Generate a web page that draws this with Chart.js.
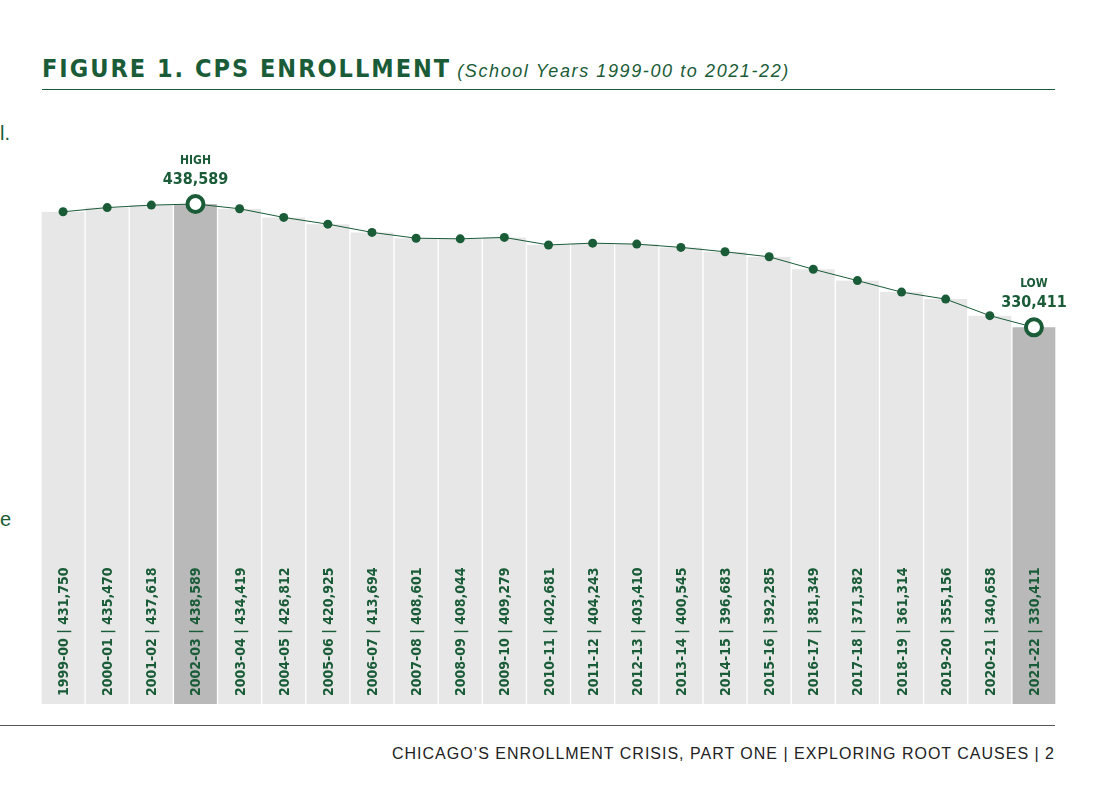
<!DOCTYPE html>
<html>
<head>
<meta charset="utf-8">
<script src="https://cdn.jsdelivr.net/npm/chart.js@4"></script>
<style>
  body { margin:0; width:1110px; height:790px; background:#fff; position:relative; overflow:hidden; font-family:"Liberation Sans", Arial, sans-serif; }
  #title { position:absolute; left:42px; top:54px; color:#1a5c38; font-family:"Liberation Sans Narrow","DejaVu Sans Condensed",sans-serif; font-weight:bold; font-size:25px; letter-spacing:2px; white-space:nowrap; }
  #title i { font-family:"Liberation Sans",sans-serif; font-weight:normal; font-size:18px; letter-spacing:1.6px; margin-left:6px; }
  #rule1 { position:absolute; left:42px; top:89px; width:1013px; height:1px; background:#1a5c38; }
  #rule2 { position:absolute; left:0; top:725px; width:1055px; height:1px; background:#555; }
  #footer { position:absolute; right:55px; top:745px; font-size:16px; letter-spacing:1px; color:#222; }
  .stray { position:absolute; left:0; color:#1a5c38; font-size:20px; }
  #wrap { position:absolute; left:29px; top:122px; width:1039px; height:594px; }
</style>
</head>
<body>
<div id="title">FIGURE 1. CPS ENROLLMENT<i>(School Years 1999-00 to 2021-22)</i></div>
<div id="rule1"></div>
<div class="stray" style="top:122px">l.</div>
<div class="stray" style="top:508px">e</div>
<div id="wrap"><canvas id="chart"></canvas></div>
<div id="rule2"></div>
<div id="footer">CHICAGO’S ENROLLMENT CRISIS, PART ONE | EXPLORING ROOT CAUSES | 2</div>
<script>
const years = ["1999-00","2000-01","2001-02","2002-03","2003-04","2004-05","2005-06","2006-07","2007-08","2008-09","2009-10","2010-11","2011-12","2012-13","2013-14","2014-15","2015-16","2016-17","2017-18","2018-19","2019-20","2020-21","2021-22"];
const enrollment = [431750,435470,437618,438589,434419,426812,420925,413694,408601,408044,409279,402681,404243,403410,400545,396683,392285,381349,371382,361314,355156,340658,330411];
const highIndex = 3;
const lowIndex = 22;

const green = "#1a5c38";
const fmt = v => v.toLocaleString("en-US");

const labelPlugin = {
  id: "labels",
  afterDatasetsDraw(chart) {
    const ctx = chart.ctx;
    const x = chart.scales.x, y = chart.scales.y;
    ctx.save();
    ctx.fillStyle = green;
    ctx.font = "bold 14px 'Liberation Sans Narrow','DejaVu Sans Condensed',sans-serif";
    years.forEach((yr, i) => {
      ctx.save();
      ctx.translate(x.getPixelForValue(i) + 5, y.bottom - 8);
      ctx.rotate(-Math.PI / 2);
      ctx.textAlign = "left";
      ctx.fillText(yr + " | " + fmt(enrollment[i]), 0, 0);
      ctx.restore();
    });
    ctx.textAlign = "center";
    [[highIndex, "HIGH"], [lowIndex, "LOW"]].forEach(([i, tag]) => {
      const px = x.getPixelForValue(i), py = y.getPixelForValue(enrollment[i]);
      ctx.font = "bold 12px 'Liberation Sans Narrow','DejaVu Sans Condensed',sans-serif";
      ctx.fillText(tag, px, py - 40);
      ctx.font = "bold 16px 'Liberation Sans Narrow','DejaVu Sans Condensed',sans-serif";
      ctx.fillText(fmt(enrollment[i]), px, py - 20);
    });
    ctx.restore();
  }
};

new Chart(document.getElementById("chart"), {
  data: {
    labels: years,
    datasets: [
      {
        type: "line",
        data: enrollment,
        borderColor: green,
        borderWidth: 1,
        pointBackgroundColor: enrollment.map((v, i) => (i === highIndex || i === lowIndex) ? "#fff" : green),
        pointBorderColor: green,
        pointBorderWidth: enrollment.map((v, i) => (i === highIndex || i === lowIndex) ? 4 : 0),
        pointRadius: enrollment.map((v, i) => (i === highIndex || i === lowIndex) ? 8 : 4.5),
        clip: false,
        order: 0
      },
      {
        type: "bar",
        data: enrollment,
        backgroundColor: enrollment.map((v, i) => (i === highIndex || i === lowIndex) ? "#b9b9b9" : "#e6e7e6"),
        borderColor: "#ffffff",
        borderWidth: { left: 1, right: 1, top: 0, bottom: 0 },
        borderSkipped: false,
        barPercentage: 1,
        categoryPercentage: 1,
        order: 1
      }
    ]
  },
  options: {
    responsive: true,
    maintainAspectRatio: false,
    animation: false,
    layout: { padding: 0 },
    plugins: { legend: { display: false }, tooltip: { enabled: false } },
    scales: {
      x: { display: false, offset: true },
      y: { display: false, min: 0, max: 500000 }
    }
  },
  plugins: [labelPlugin]
});
</script>
</body>
</html>
